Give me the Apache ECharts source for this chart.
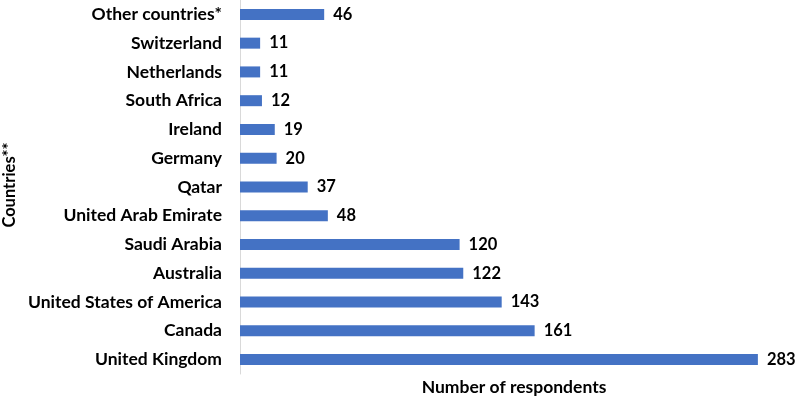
<!DOCTYPE html>
<html><head><meta charset="utf-8">
<script src="https://cdn.jsdelivr.net/npm/echarts@6/dist/echarts.min.js"></script>
<style>html,body{margin:0;padding:0;background:#fff}#c{width:797px;height:399px}</style>
</head><body><div id="c"></div>
<script>
const categories = ["United Kingdom","Canada","United States of America","Australia","Saudi Arabia","United Arab Emirate","Qatar","Germany","Ireland","South Africa","Netherlands","Switzerland","Other countries*"];
const values = [283,161,143,122,120,48,37,20,19,12,11,11,46];
const xTitle = "Number of respondents";
const yTitle = "Countries**";
const FONT = "Lato";
const chart = echarts.init(document.getElementById('c'));
chart.setOption({
  animation:false,
  grid:{left:240,top:0,width:549,height:374,containLabel:false},
  xAxis:{type:'value',min:0,max:300,show:false},
  yAxis:{type:'category',data:categories,
    axisLine:{show:true,lineStyle:{color:'#d9d9d9',width:1}},
    axisTick:{show:false},
    axisLabel:{color:'#000',fontFamily:FONT,fontWeight:'bold',fontSize:17.5,margin:18}},
  series:[{type:'bar',data:values,barWidth:11,
    itemStyle:{color:'#4472C4'},
    label:{show:true,position:'right',distance:9,color:'#000',fontFamily:FONT,fontWeight:'bold',fontSize:16.5}}],
  graphic:[
    {type:'text',x:514,y:387,style:{text:xTitle,align:'center',verticalAlign:'middle',font:'bold 17.5px '+FONT,fill:'#000'}},
    {type:'text',rotation:Math.PI/2,x:10,y:185,style:{text:yTitle,align:'center',verticalAlign:'middle',font:'bold 16.5px '+FONT,fill:'#000'}}
  ]
});
</script></body></html>
